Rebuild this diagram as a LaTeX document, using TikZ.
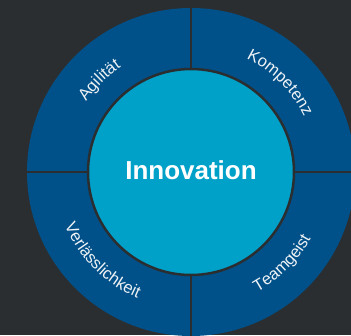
\documentclass[tikz,border=0pt]{standalone}
\usepackage{fontspec}
\setmainfont{Liberation Sans}
\usetikzlibrary{decorations.text}
\definecolor{bg}{HTML}{2B2E30}
\definecolor{ringblue}{HTML}{005189}
\definecolor{coreblue}{HTML}{00A1C9}
\definecolor{labelwhite}{HTML}{EEF2F6}
\newcommand{\lblfmt}{\fontsize{16.5}{16.5}\selectfont\color{labelwhite}}
\tikzset{
  divider/.style={draw=bg, line width=2.2pt},
  toplabel/.style={decorate, decoration={text along path, text align=center, text={|\lblfmt|#1}}},
}
\begin{document}
\begin{tikzpicture}[x=1pt,y=1pt]
\useasboundingbox (0,0) rectangle (351,-335);
\fill[bg] (0,0) rectangle (351,-335);
\coordinate (c) at (191,-172);
\coordinate (ntop) at (191,10);
\coordinate (nbot) at (191,-345);
\coordinate (wl) at (20,-172);
\coordinate (er) at (360,-172);
\begin{scope}
\clip (0,0) rectangle (351,-335);
\fill[ringblue] (c) circle[radius=164];
\draw[divider] (ntop) -- (nbot);
\draw[divider] (wl) -- (er);
\filldraw[fill=coreblue, draw=bg, line width=2.5pt] (c) circle[radius=103];
\end{scope}
% curved labels
\path[toplabel={Agilität}] ([shift={(170:126)}]c) arc[start angle=170, end angle=100, radius=126];
\path[toplabel={Kompetenz}] ([shift={(85:126)}]c) arc[start angle=85, end angle=5, radius=126];
\path[toplabel={Verlässlichkeit}] ([shift={(175:137)}]c) arc[start angle=175, end angle=275, radius=137];
\path[toplabel={Teamgeist}] ([shift={(275:137)}]c) arc[start angle=275, end angle=355, radius=137];
\node[font=\bfseries\fontsize{26}{26}\selectfont, text=white, anchor=base] (inno) at (191,-179.5) {Innovation};
\end{tikzpicture}
\end{document}
